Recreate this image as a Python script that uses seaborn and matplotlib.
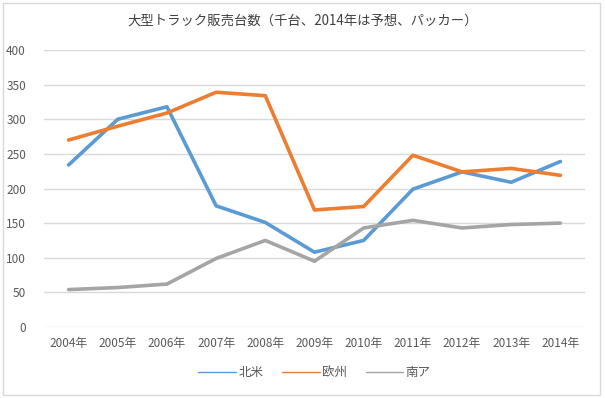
import matplotlib
matplotlib.use("Agg")
import matplotlib.pyplot as plt
import pandas as pd
import seaborn as sns
from matplotlib.patches import Rectangle

# データ（千台）
years = ["2004年", "2005年", "2006年", "2007年", "2008年", "2009年",
         "2010年", "2011年", "2012年", "2013年", "2014年"]
north_america = [234, 300, 318, 175, 151, 108, 125, 199, 224, 209, 239]
europe = [270, 290, 309, 339, 334, 169, 174, 248, 224, 229, 219]
south_america = [54, 57, 62, 99, 125, 95, 143, 154, 143, 148, 150]
series_names = ["北米", "欧州", "南ア"]
colors = ["#5B9BD5", "#ED7D31", "#A5A5A5"]

df = pd.DataFrame({
    "year": years * 3,
    "value": north_america + europe + south_america,
    "region": [n for n in series_names for _ in years],
})
df["pos"] = df.groupby("region").cumcount()

sns.set_theme(style="white")
plt.rcParams["font.family"] = ["Noto Sans CJK JP", "DejaVu Sans"]

fig = plt.figure(figsize=(6.05, 3.98), dpi=100)
ax = fig.add_axes([44 / 605, 1 - 327 / 398, (585 - 44) / 605, (327 - 50) / 398])

sns.lineplot(data=df, x="pos", y="value", hue="region", palette=colors,
             linewidth=2.6, ax=ax, legend=True)

ax.set_xlim(-0.5, len(years) - 0.5)
ax.set_ylim(0, 400)
ax.set_xticks(range(len(years)))
ax.set_xticklabels(years)
ax.set_yticks(range(0, 401, 50))
ax.yaxis.grid(True, color="#D9D9D9", linewidth=1)
ax.xaxis.grid(False)
for s in ax.spines.values():
    s.set_visible(False)
ax.tick_params(axis="both", length=0, labelsize=8.5, labelcolor="#595959")
ax.tick_params(axis="y", pad=13)
ax.tick_params(axis="x", pad=7)
ax.set_xlabel("")
ax.set_ylabel("")

handles, labels = ax.get_legend_handles_labels()
ax.legend(handles, labels, loc="center", bbox_to_anchor=(0.5, -0.165),
          ncol=3, frameon=False, fontsize=9, handlelength=3.0,
          handletextpad=0.2, columnspacing=1.5, labelcolor="#595959")
for h in ax.get_legend().get_lines():
    h.set_linewidth(1)

fig.text(0.5, 1 - 22 / 398, "大型トラック販売台数（千台、2014年は予想、パッカー）",
         ha="center", va="center", fontsize=9.6, color="#404040")

fig.patches.append(Rectangle((3 / 605, 3 / 398), 597 / 605, 392 / 398,
                             transform=fig.transFigure, fill=False,
                             edgecolor="#D9D9D9", linewidth=1))

fig.savefig("out.png", dpi=100)
